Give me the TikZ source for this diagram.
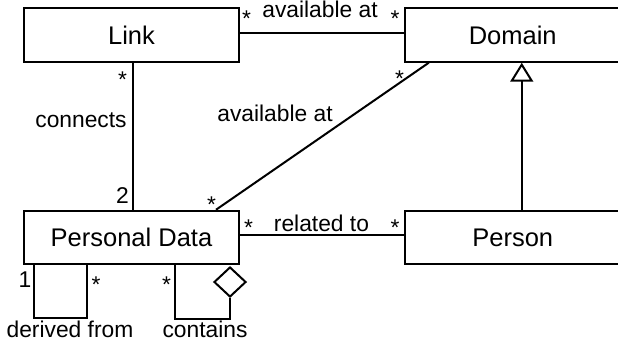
\documentclass[tikz,border=0pt]{standalone}
\usepackage{fontspec}
\setmainfont{Liberation Sans}
\usetikzlibrary{arrows.meta,shapes.geometric}

\tikzset{
  classbox/.style={draw, line width=2pt, fill=white, minimum width=215pt,
    minimum height=53.5pt, inner sep=0pt,
    font=\fontsize{25.5}{30}\selectfont},
  assoc/.style={line width=2pt},
  lbl/.style={inner sep=0pt, anchor=base, font=\fontsize{22.8}{27}\selectfont},
  aggdiamond/.style={diamond, draw, line width=2pt, fill=white, inner sep=0pt,
    minimum width=32pt, minimum height=30pt},
  generalization/.style={line width=2pt,
    -{Triangle[open, width=23pt, length=19pt, line width=2pt]}}
}

\begin{document}
\begin{tikzpicture}[x=1pt, y=-1pt]
  \useasboundingbox (0,0) rectangle (618,342);
  \clip (0,0) rectangle (618,342);
  \fill[white] (0,0) rectangle (618,342);

  % classes
  \node[classbox] (link)   at (131.5, 35)    {Link};
  \node[classbox] (domain) at (512.75, 35)   {Domain};
  \node[classbox] (pd)     at (131.5, 237.5) {Personal Data};
  \node[classbox] (person) at (512.75, 237.5){Person};

  % associations
  \draw[assoc] ([yshift=2pt]link.east) -- ([yshift=2pt]domain.west);
  \draw[assoc] ([xshift=1.5pt]link.south) -- ([xshift=1.5pt]pd.north);
  \draw[assoc] ([xshift=24.5pt]domain.south west) -- ([xshift=193pt]pd.north west);
  \draw[assoc] ([yshift=2.5pt]pd.east) -- ([yshift=2.5pt]person.west);

  % Person specialises Domain
  \draw[generalization] ([xshift=117.5pt]person.north west)
    -- ([xshift=117.5pt]domain.south west);

  % reflexive association: derived from
  \draw[assoc] ([xshift=11pt]pd.south west) -- ++(0,53)
    -| ([xshift=64pt]pd.south west);

  % reflexive aggregation: contains
  \node[aggdiamond] (agg) at (230, 282) {};
  \draw[assoc] (agg.south) -- ++(0,21) -| ([xshift=152pt]pd.south west);

  % role names and multiplicities
  \node[lbl] (m1)  at (246.5, 26.7) {*};
  \node[lbl] (ln1) at (320, 18)     {available at};
  \node[lbl] (m2)  at (395, 26.7)   {*};

  \node[lbl] (m3)  at (122.5, 87.7) {*};
  \node[lbl] (ln2) at (81, 127.5)   {connects};
  \node[lbl] (m4)  at (122.5, 203)  {2};

  \node[lbl] (m5)  at (399.5, 86.2) {*};
  \node[lbl] (ln3) at (275, 121.5)  {available at};
  \node[lbl] (m6)  at (211.5, 212.7){*};

  \node[lbl] (m7)  at (248.5, 235.7){*};
  \node[lbl] (ln4) at (321.5, 231.5){related to};
  \node[lbl] (m8)  at (395, 235.7)  {*};

  \node[lbl] (m9)  at (25, 287)     {1};
  \node[lbl] (m10) at (96, 292.2)   {*};
  \node[lbl] (ln5) at (70, 337)     {derived from};

  \node[lbl] (m11) at (166.5, 292.2){*};
  \node[lbl] (ln6) at (205, 337)    {contains};
\end{tikzpicture}
\end{document}
